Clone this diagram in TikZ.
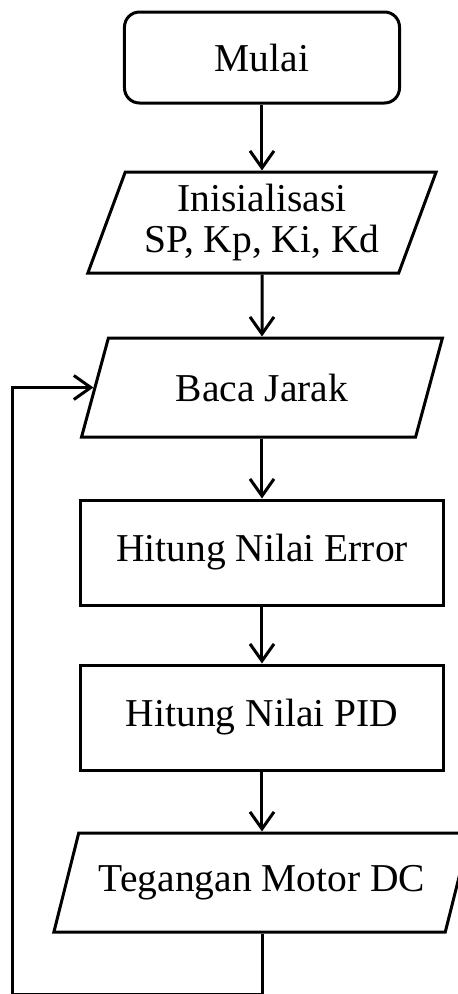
\documentclass[tikz,border=0pt]{standalone}
\usepackage{fontspec}
\setmainfont{Liberation Serif}
\usepackage{tikz}
\usetikzlibrary{arrows.meta}
\usetikzlibrary{shapes.geometric}
\usetikzlibrary{positioning}

\begin{document}
\begin{tikzpicture}[x=1pt,y=1pt,-,>={Straight Barb[length=17pt,width=24pt]},line width=3pt,node distance=165pt]
	\tikzstyle{term}=[draw, rounded corners=15pt, minimum width=275pt, minimum height=91pt, font=\fontsize{39.5}{41}\selectfont]
	\tikzstyle{io}=[draw, trapezium, trapezium stretches=true, align=center, font=\fontsize{39.5}{41}\selectfont]
	\tikzstyle{proc}=[draw, rectangle, minimum width=362pt, minimum height=105pt, font=\fontsize{39.5}{41}\selectfont]
	\path[use as bounding box, clip] (-262,-936.5) rectangle (196,57.5);
	\node[term] 	(M)                   	{Mulai};
	\node[io, trapezium left angle=68.4, trapezium right angle=111.6, minimum width=350pt, minimum height=101pt]
			(I) [below of=M]          	{Inisialisasi\\SP, Kp, Ki, Kd};
	\node[io, trapezium left angle=65.6, trapezium right angle=114.4, minimum width=362pt, minimum height=99pt]
			(B) [below of=I]          	{Baca Jarak};
	\node[proc] 	(E) [below of=B]          	{Hitung Nilai Error};
	\node[proc] 	(P) [below of=E]          	{Hitung Nilai PID};
	\node[io, trapezium left angle=61.4, trapezium right angle=118.6, minimum width=417pt, minimum height=99pt]
			(T) [below of=P]          	{Tegangan Motor DC};
	\coordinate (L) at (-249,-936.5);
	\path[->]
		(M) edge (I)
		(I) edge (B)
		(B) edge (E)
		(E) edge (P)
		(P) edge (T);
	\draw[->] (T.south) |- (L) |- (B.west);
\end{tikzpicture}
\end{document}
